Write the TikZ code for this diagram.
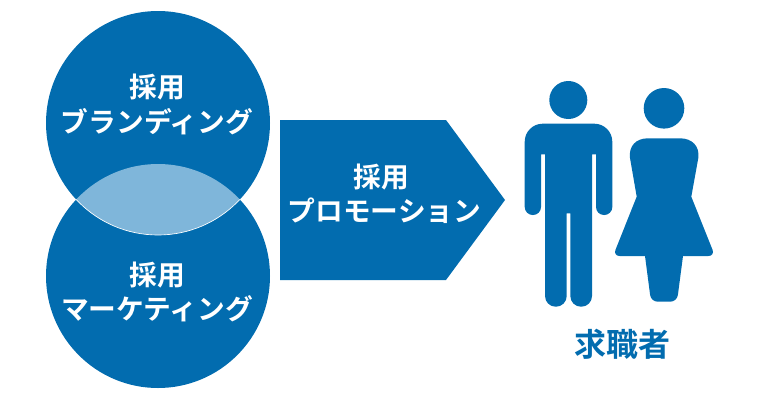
\documentclass[tikz,border=0pt]{standalone}
\usepackage{fontspec}
\newfontfamily\jpfont{Noto Sans CJK JP}[BoldFont={Noto Sans CJK JP Bold}]
\definecolor{mainblue}{HTML}{026CAF}
\definecolor{lensblue}{HTML}{7FB6DA}
\tikzset{
    bubble/.style={circle, fill=mainblue, inner sep=0pt, minimum size=168pt},
    whitetext/.style={text=white, font=\jpfont\bfseries\fontsize{20.8}{25.8}\selectfont, align=center, inner sep=0pt},
    person/.style={fill=mainblue}
}
\begin{document}
\begin{tikzpicture}[x=0.75pt, y=-0.75pt]
    \useasboundingbox (0,0) rectangle (760,400);
    \node[bubble] (branding) at (158,123) {};
    \node[bubble] (marketing) at (158,276) {};
    \begin{scope}
        \clip (158,276) circle (112);
        \fill[lensblue] (158,123) circle (112);
        \draw[white, line width=0.5pt] (158,123) circle (112);
    \end{scope}
    \node[whitetext] (brandingtext) at (157,104.5) {\kern1pt採用\\ブランディング};
    \node[whitetext] (marketingtext) at (157,292) {\kern1pt採用\\マーケティング};
    \fill[mainblue] (280,120) -- (446,120) -- (505,200) -- (446,280) -- (280,280) -- cycle;
    \node[whitetext] (promotiontext) at (384.5,194) {採用\kern5pt\\プロモーション};
    % man
    \fill[person] (568.3,100) circle (19);
    \fill[person] (566.7,213.3) [rounded corners=8pt] -- (566.7,306.7) -- (545,306.7) [sharp corners] -- (545,154.3) -- (541,154.3)
        [rounded corners=6pt] -- (541,215) -- (524.7,215) [rounded corners=13.5pt] -- (524.7,123.7) -- (612.3,123.7)
        [rounded corners=6pt] -- (612.3,215) -- (596,215) [sharp corners] -- (596,154.3) -- (592,154.3)
        [rounded corners=8pt] -- (592,306.7) -- (570.3,306.7) [sharp corners] -- (570.3,213.3) -- cycle;
    % woman
    \fill[person] (664,108.3) circle (20.3);
    \fill[person] (636.7,196.7) -- (630,158) .. controls (628.5,146) and (636,138.3) .. (648,138.3) -- (680,138.3)
        .. controls (692,138.3) and (699.8,146) .. (698.3,158) -- (691.3,196.7)
        [rounded corners=5pt] -- (715,256) [sharp corners] -- (683,256)
        [rounded corners=5pt] -- (677,301.7) -- (651,301.7) [sharp corners] -- (645,256)
        [rounded corners=5pt] -- (613,256) [sharp corners] -- cycle;
    \node[text=mainblue, font=\jpfont\bfseries\fontsize{24}{28}\selectfont, inner sep=0pt] (seekers) at (622,344) {求職者};
\end{tikzpicture}
\end{document}
